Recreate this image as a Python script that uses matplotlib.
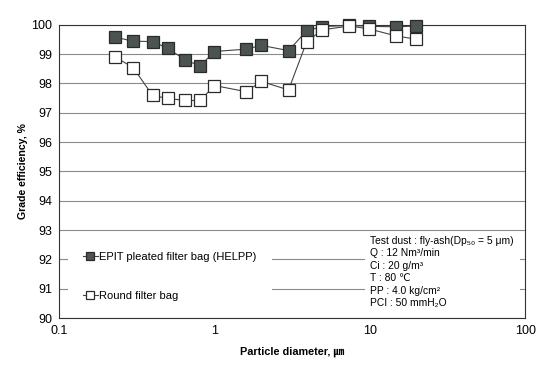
import matplotlib
matplotlib.use("Agg")
import matplotlib.pyplot as plt
from matplotlib.patches import Rectangle

plt.rcParams['font.family'] = ['Liberation Sans', 'DejaVu Sans', 'Noto Sans CJK KR']

# particle diameter (um)
diam = [0.23, 0.30, 0.40, 0.50, 0.65, 0.81, 1.0, 1.6, 2.0, 3.0, 3.93, 4.96, 7.4, 9.9, 14.8, 19.9]
# grade efficiency (%)
helpp = [99.58, 99.44, 99.43, 99.20, 98.80, 98.60, 99.09, 99.17, 99.30, 99.12, 99.80, 99.94, 99.98, 99.95, 99.93, 99.96]
round_bag = [98.90, 98.54, 97.59, 97.49, 97.42, 97.42, 97.93, 97.72, 98.07, 97.78, 99.43, 99.83, 99.96, 99.86, 99.62, 99.51]

xticks = [0.1, 1, 10, 100]
xticklabels = ['0.1', '1', '10', '100']
yticks = list(range(90, 101))

note_lines = ['Test dust : fly-ash(Dp₅₀ = 5 μm)',
              'Q : 12 Nm³/min',
              'Ci : 20 g/m³',
              'T : 80 ℃',
              'PP : 4.0 kg/cm²',
              'PCI : 50 mmH₂O']

fig = plt.figure(figsize=(5.47, 3.76), dpi=100)
ax = fig.add_axes([0.108, 0.154, 0.852, 0.78])

ax.plot(diam, helpp, '-s', color='#444444', lw=0.8, ms=8.5, clip_on=False,
        mfc='#4b5450', mec='#2a2a2a', mew=0.9, label='EPIT pleated filter bag (HELPP)', zorder=4)
ax.plot(diam, round_bag, '-s', color='#444444', lw=0.8, ms=8.5, clip_on=False,
        mfc='white', mec='#2a2a2a', mew=0.9, label='Round filter bag', zorder=4)

ax.set_xscale('log')
ax.set_xlim(0.1, 100)
ax.set_ylim(90, 100)
ax.set_xticks(xticks)
ax.set_xticklabels(xticklabels)
ax.minorticks_off()
ax.set_yticks(yticks)
ax.tick_params(axis='both', labelsize=9, length=0, pad=5)
ax.yaxis.grid(True, color='#8a8a8a', lw=0.8)
ax.set_axisbelow(True)
for s in ax.spines.values():
    s.set_color('#333333')
    s.set_linewidth(0.8)

ax.set_xlabel('Particle diameter, ㎛', fontsize=7.8, fontweight='bold', labelpad=7)
ax.set_ylabel('Grade efficiency, %', fontsize=7.6, fontweight='bold', labelpad=2)

# white boxes behind legend and note
ax.add_patch(Rectangle((0.019, 0.007), 0.438, 0.286, transform=ax.transAxes,
                       facecolor='white', edgecolor='none', zorder=2))
ax.add_patch(Rectangle((0.657, 0.007), 0.332, 0.286, transform=ax.transAxes,
                       facecolor='white', edgecolor='none', zorder=2))

leg = ax.legend(loc='upper left', bbox_to_anchor=(0.04, 0.243), frameon=False,
                fontsize=8, labelspacing=2.6, handlelength=1.3, handletextpad=0.15,
                markerscale=0.75, borderpad=0)
leg.set_zorder(5)

for i, line in enumerate(note_lines):
    ax.text(0.668, 0.263 - i * 0.0425, line, transform=ax.transAxes, fontsize=7.4,
            va='center', ha='left', zorder=5)

fig.savefig('out.png', dpi=100)
